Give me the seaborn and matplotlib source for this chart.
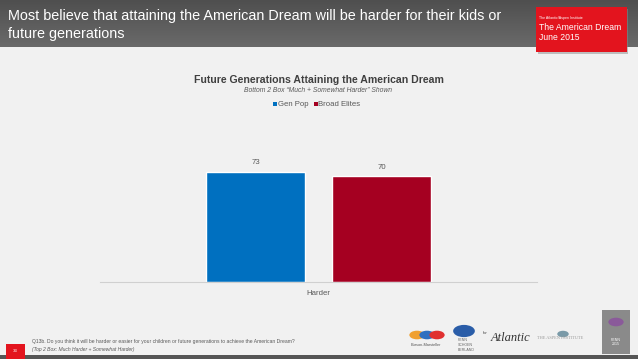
import matplotlib
matplotlib.use("Agg")
import matplotlib.pyplot as plt
import seaborn as sns
import pandas as pd
import numpy as np
from matplotlib.patches import Rectangle

categories = ["Harder"]
series = ["Gen Pop", "Broad Elites"]
values = [73, 70]
colors = ["#0070c0", "#a50021"]

df = pd.DataFrame({"category": categories * len(series), "series": series, "value": values})

sns.set_theme(style="white")
plt.rcParams["font.family"] = ["Liberation Sans", "DejaVu Sans"]

W, H = 638, 359
fig = plt.figure(figsize=(W / 100, H / 100), dpi=100)
fig.patch.set_facecolor("#f1f1f1")

def fx(x):
    return x / W

def fy(y):
    return 1 - y / H

# header band (gradient)
grad = np.linspace(0, 1, 100).reshape(-1, 1)
hax = fig.add_axes([0, fy(47), 1, 47 / H])
hax.imshow(grad, aspect="auto", cmap=matplotlib.colors.LinearSegmentedColormap.from_list("g", ["#4f4f4f", "#6a6a6a"]), extent=[0, 1, 0, 1])
hax.axis("off")

fig.text(fx(8), fy(16), "Most believe that attaining the American Dream will be harder for their kids or",
         color="white", fontsize=10.4, va="center", ha="left")
fig.text(fx(8), fy(34), "future generations", color="white", fontsize=10.4, va="center", ha="left")

# red badge
fig.patches.append(Rectangle((fx(538), fy(54)), fx(90), 45 / H, transform=fig.transFigure,
                             facecolor="#8a8a8a", edgecolor="none", alpha=0.5, zorder=2))
fig.patches.append(Rectangle((fx(536), fy(52)), fx(91), 45 / H, transform=fig.transFigure,
                             facecolor="#e3141e", edgecolor="none", zorder=3))
fig.text(fx(539), fy(18), "The Atlantic/Aspen Institute", color="white", fontsize=2.6, va="center", zorder=4)
fig.text(fx(539), fy(27), "The American Dream", color="white", fontsize=6.2, va="center", zorder=4)
fig.text(fx(539), fy(38), "June 2015", color="white", fontsize=6.2, va="center", zorder=4)

# chart titles
fig.text(fx(318.5), fy(80), "Future Generations Attaining the American Dream", color="#404040",
         fontsize=7.6, fontweight="bold", ha="center", va="center")
fig.text(fx(318.5), fy(91), "Bottom 2 Box \u201cMuch + Somewhat Harder\u201d Shown", color="#595959",
         fontsize=4.9, style="italic", ha="center", va="center")

# main axes
y0, y1 = 282, 161.4
ax = fig.add_axes([fx(100), fy(y0), fx(537 - 100), (y0 - y1) / H])
sns.barplot(data=df, x="category", y="value", hue="series", palette=colors, ax=ax,
            width=0.577, gap=0.214, legend=False, saturation=1)
ax.set_xlim(-0.5, 0.5)
ax.set_ylim(0, 80)
ax.set_facecolor("none")
for s in ["top", "right", "left"]:
    ax.spines[s].set_visible(False)
ax.spines["bottom"].set_color("#d0d0d0")
ax.spines["bottom"].set_linewidth(0.8)
ax.set_yticks([])
ax.set_xlabel("")
ax.set_ylabel("")
ax.tick_params(axis="x", length=0, labelsize=5.6, labelcolor="#595959", pad=6)
for c in ax.containers:
    ax.bar_label(c, fmt="%d", fontsize=5.6, color="#595959", padding=4)

# legend
for name, col, lx in zip(series, colors, [273, 314]):
    fig.patches.append(Rectangle((fx(lx), fy(105.5)), fx(3.5), 3.5 / H, transform=fig.transFigure,
                                 facecolor=col, edgecolor="none"))
    fig.text(fx(lx + 4.5), fy(104), name, color="#595959", fontsize=5.6, va="center", ha="left")

# footer
fig.patches.append(Rectangle((0, 0), 1, 4 / H, transform=fig.transFigure, facecolor="#555555", edgecolor="none"))
fig.patches.append(Rectangle((fx(6), 0), fx(19), 15 / H, transform=fig.transFigure, facecolor="#e3141e", edgecolor="none"))
fig.text(fx(15.5), fy(351), "33", color="white", fontsize=3.2, ha="center", va="center")
fig.text(fx(32), fy(342), "Q13b. Do you think it will be harder or easier for your children or future generations to achieve the American Dream?",
         color="#595959", fontsize=3.65, va="center")
fig.text(fx(32), fy(349), "(Top 2 Box: Much Harder + Somewhat Harder)", color="#595959", fontsize=3.65,
         style="italic", va="center")

# partner marks (approximate)
fig.text(fx(426), fy(345), "Burson-Marsteller", color="#555555", fontsize=2.8, ha="center", va="center")
for cx, col in [(417, "#f0a030"), (427, "#3070c0"), (437, "#e03030")]:
    fig.patches.append(plt.Circle((fx(cx), fy(335)), 0.012, transform=fig.transFigure, facecolor=col, edgecolor="none"))
fig.patches.append(plt.Circle((fx(464), fy(331)), 0.017, transform=fig.transFigure, facecolor="#2a5da8", edgecolor="none"))
for j, w in enumerate(["PENN", "SCHOEN", "BERLAND"]):
    fig.text(fx(458), fy(340 + j * 5), w, color="#666666", fontsize=2.6, va="center")
fig.text(fx(491), fy(338), "Atlantic", color="#333333", fontsize=9, family=["Liberation Serif"],
         style="italic", va="center")
fig.text(fx(483), fy(333), "the", color="#333333", fontsize=2.6, family=["Liberation Serif"], style="italic", va="center")
fig.text(fx(560), fy(338), "THE ASPEN INSTITUTE", color="#9a9a9a", fontsize=3.2, family=["Liberation Serif"],
         ha="center", va="center")
fig.patches.append(plt.Circle((fx(563), fy(334)), 0.009, transform=fig.transFigure, facecolor="#7a9aa8", edgecolor="none"))
fig.patches.append(Rectangle((fx(602), fy(354)), fx(28), 44 / H, transform=fig.transFigure,
                             facecolor="#8a8a8a", edgecolor="none"))
fig.patches.append(plt.Circle((fx(616), fy(322)), 0.012, transform=fig.transFigure, facecolor="#8a5a9a", edgecolor="none"))
fig.text(fx(616), fy(342), "PENN\n2015", color="white", fontsize=2.6, ha="center", va="center")

fig.savefig("out.png", dpi=100, facecolor=fig.get_facecolor())
